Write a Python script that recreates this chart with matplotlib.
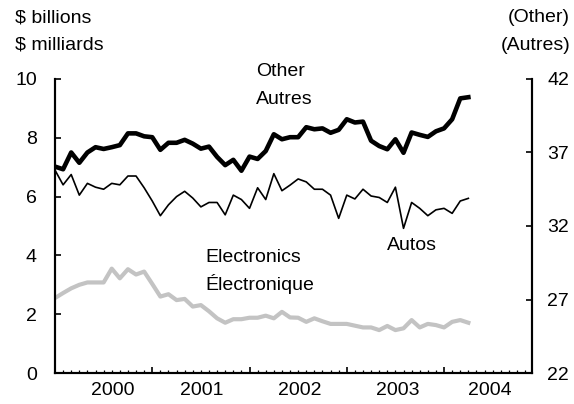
import numpy as np
import matplotlib.pyplot as plt

plt.rcParams['font.family'] = ['Liberation Sans', 'DejaVu Sans']

# monthly values, left axis ($ billions)
autos = [6.90, 6.40, 6.75, 6.05, 6.45, 6.32, 6.25, 6.45, 6.40, 6.70,
         6.70, 6.30, 5.85, 5.35, 5.72, 6.00, 6.18, 5.95, 5.65, 5.80,
         5.80, 5.38, 6.05, 5.90, 5.60, 6.30, 5.90, 6.78, 6.20, 6.39,
         6.60, 6.50, 6.25, 6.25, 6.05, 5.26, 6.05, 5.92, 6.25, 6.02,
         5.97, 5.80, 6.32, 4.92, 5.80, 5.60, 5.35, 5.55, 5.60, 5.43,
         5.85, 5.94]
electronics = [2.55, 2.72, 2.88, 3.00, 3.08, 3.08, 3.08, 3.55, 3.22, 3.53,
               3.35, 3.45, 3.03, 2.60, 2.68, 2.48, 2.52, 2.26, 2.31, 2.10,
               1.86, 1.71, 1.83, 1.83, 1.88, 1.88, 1.95, 1.86, 2.08, 1.89,
               1.88, 1.74, 1.86, 1.76, 1.67, 1.67, 1.67, 1.61, 1.55, 1.55,
               1.46, 1.60, 1.46, 1.52, 1.80, 1.55, 1.67, 1.63, 1.55, 1.74,
               1.80, 1.71]
# right axis ($ billions)
other = [36.04, 35.86, 37.00, 36.30, 37.00, 37.36, 37.24, 37.36, 37.50, 38.30,
         38.30, 38.10, 38.04, 37.18, 37.66, 37.66, 37.86, 37.60, 37.26, 37.40,
         36.70, 36.14, 36.50, 35.76, 36.72, 36.56, 37.10, 38.24, 37.90, 38.04,
         38.04, 38.72, 38.58, 38.64, 38.34, 38.54, 39.26, 39.04, 39.10, 37.80,
         37.44, 37.22, 37.90, 36.98, 38.36, 38.20, 38.06, 38.44, 38.64, 39.26,
         40.68, 40.76]

years = ['2000', '2001', '2002', '2003', '2004']
year_pos = [7.1, 18.1, 30.2, 42.3, 53.7]
year_ticks = [12, 24, 36, 48]

months = np.arange(len(autos))
FS = 14

fig = plt.figure(figsize=(5.74, 4.04), dpi=100)
ax = fig.add_axes([0.0958, 0.0767, 0.8310, 0.7278])
ax2 = ax.twinx()

ax.plot(months, electronics, color='#c3c3c3', lw=3.0, solid_joinstyle='round')
ax.plot(months, autos, color='black', lw=1.2)
ax2.plot(months, other, color='black', lw=3.3, solid_joinstyle='round')

ax.set_xlim(0, 58.85)
ax.set_ylim(0, 10)
ax2.set_ylim(22, 42)
ax.set_yticks([0, 2, 4, 6, 8, 10])
ax2.set_yticks([22, 27, 32, 37, 42])

ax.set_xticks(year_ticks)
ax.set_xticks(np.arange(1, 59), minor=True)
ax.set_xticklabels([])
for y, p in zip(years, year_pos):
    ax.text(p, -0.061, y, transform=ax.get_xaxis_transform(),
            ha='center', va='center', fontsize=FS)

for a in (ax, ax2):
    a.spines['top'].set_visible(False)
    for s in ('left', 'right', 'bottom'):
        a.spines[s].set_linewidth(1.5)
ax.tick_params(axis='y', direction='in', length=4, width=1.2, pad=13, labelsize=FS)
ax2.tick_params(axis='y', direction='in', length=4, width=1.2, pad=11, labelsize=FS)
ax.tick_params(axis='x', which='major', direction='in', length=4.5, width=1.2)
ax.tick_params(axis='x', which='minor', direction='in', length=2.2, width=0.9)

fig.text(15/574, 1 - 18/404, '$ billions', ha='left', va='center', fontsize=FS)
fig.text(15/574, 1 - 45/404, '$ milliards', ha='left', va='center', fontsize=FS)
fig.text(570/574, 1 - 18/404, '(Other)', ha='right', va='center', fontsize=FS)
fig.text(570/574, 1 - 45/404, '(Autres)', ha='right', va='center', fontsize=FS)

fig.text(256/574, 1 - 72/404, 'Other', ha='left', va='center', fontsize=FS)
fig.text(256/574, 1 - 100/404, 'Autres', ha='left', va='center', fontsize=FS)
fig.text(205/574, 1 - 257/404, 'Electronics', ha='left', va='center', fontsize=FS)
fig.text(205/574, 1 - 284/404, 'Électronique', ha='left', va='center', fontsize=FS)
fig.text(387/574, 1 - 245/404, 'Autos', ha='left', va='center', fontsize=FS)

fig.savefig('out.png', dpi=100)
